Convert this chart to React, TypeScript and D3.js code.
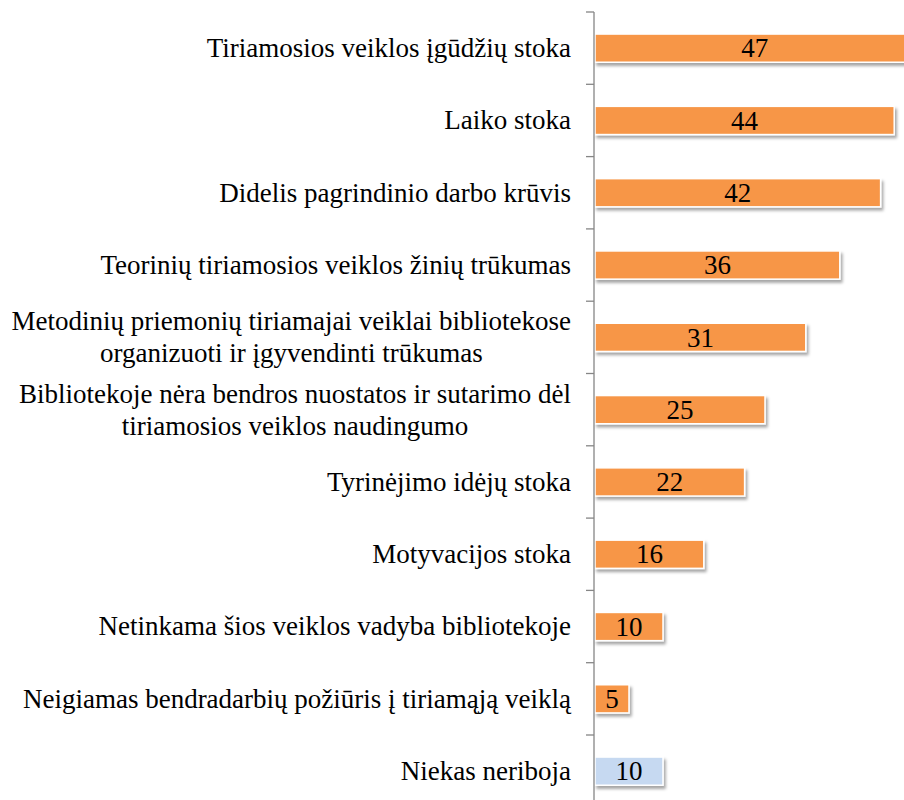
import * as React from 'react';
import {useEffect, useRef} from 'react';
import * as d3 from 'd3';

const categories = [
  ['Tiriamosios veiklos įgūdžių stoka'],
  ['Laiko stoka'],
  ['Didelis pagrindinio darbo krūvis'],
  ['Teorinių tiriamosios veiklos žinių trūkumas'],
  ['Metodinių priemonių tiriamajai veiklai bibliotekose', 'organizuoti ir įgyvendinti trūkumas'],
  ['Bibliotekoje nėra bendros nuostatos ir sutarimo dėl', 'tiriamosios veiklos naudingumo'],
  ['Tyrinėjimo idėjų stoka'],
  ['Motyvacijos stoka'],
  ['Netinkama šios veiklos vadyba bibliotekoje'],
  ['Neigiamas bendradarbių požiūris į tiriamąją veiklą'],
  ['Niekas neriboja'],
];
const values = [47, 44, 42, 36, 31, 25, 22, 16, 10, 5, 10];
const highlighted = [false, false, false, false, false, false, false, false, false, false, true];

const W = 904;
const H = 800;
const FONT = 'Liberation Serif';
const FONT_SIZE = 27;

export default function App() {
  const ref = useRef<SVGSVGElement>(null);

  useEffect(() => {
    const svg = d3.select(ref.current);
    svg.selectAll('*').remove();

    const axisX = 594;
    const y = d3.scaleBand<number>()
      .domain(d3.range(values.length))
      .range([12, 12 + values.length * 72.3])
      .paddingInner(0.61)
      .paddingOuter(0.305);
    const x = d3.scaleLinear().domain([0, 50]).range([axisX, axisX + 50 * 6.8]);

    const defs = svg.append('defs');
    const f = defs.append('filter').attr('id', 'shadow')
      .attr('x', '-10%').attr('y', '-30%').attr('width', '130%').attr('height', '190%');
    f.append('feDropShadow')
      .attr('dx', 2).attr('dy', 3).attr('stdDeviation', 1.8)
      .attr('flood-color', '#000').attr('flood-opacity', 0.35);

    // bars
    svg.append('g')
      .selectAll('rect')
      .data(values)
      .join('rect')
      .attr('x', x(0) + 1)
      .attr('y', (_, i) => y(i)!)
      .attr('width', d => x(d) - x(0))
      .attr('height', y.bandwidth())
      .attr('fill', (_, i) => highlighted[i] ? '#C6D9F1' : '#F79646')
      .attr('stroke', '#fff')
      .attr('stroke-width', 1.5)
      .attr('filter', 'url(#shadow)');

    // value labels
    svg.append('g')
      .selectAll('text')
      .data(values)
      .join('text')
      .attr('text-anchor', 'middle')
      .attr('font-family', FONT)
      .attr('font-size', FONT_SIZE)
      .attr('x', d => (x(0) + x(d)) / 2 + 1)
      .attr('y', (_, i) => y(i)! + y.bandwidth() / 2)
      .attr('dy', '0.34em')
      .attr('fill', '#000')
      .text(d => d);

    // axis line + ticks
    const axis = svg.append('g').attr('stroke', '#868686').attr('stroke-width', 1.3);
    const [r0, r1] = y.range();
    axis.append('line').attr('x1', axisX).attr('x2', axisX).attr('y1', r0).attr('y2', r1);
    const step = y.step();
    axis.selectAll('line.tick')
      .data(d3.range(values.length + 1))
      .join('line')
      .attr('class', 'tick')
      .attr('x1', axisX - 8).attr('x2', axisX)
      .attr('y1', i => r0 + i * step).attr('y2', i => r0 + i * step);

    // category labels (multi-line blocks centered, right-aligned as a block)
    const labelRight = 571;
    const lineH = 32;
    const lg = svg.append('g');
    categories.forEach((lines, i) => {
      const cy = y(i)! + y.bandwidth() / 2;
      const t = lg.append('text')
        .attr('text-anchor', 'middle')
        .attr('font-family', FONT)
        .attr('font-size', FONT_SIZE)
        .attr('fill', '#000');
      lines.forEach((line, j) => {
        t.append('tspan')
          .attr('y', cy + (j - (lines.length - 1) / 2) * lineH)
          .attr('dy', '0.33em')
          .text(line);
      });
      const widths = t.selectAll<SVGTSpanElement, unknown>('tspan').nodes().map(n => n.getComputedTextLength());
      const maxW = d3.max(widths) || 0;
      t.selectAll('tspan').attr('x', labelRight - maxW / 2);
    });
  }, []);

  return (
    <div style={{position: 'fixed', left: 0, top: 0, width: W, height: H, overflow: 'hidden', background: '#fff'}}>
      <svg ref={ref} width={W} height={H} style={{display: 'block'}}/>
    </div>
  );
}
